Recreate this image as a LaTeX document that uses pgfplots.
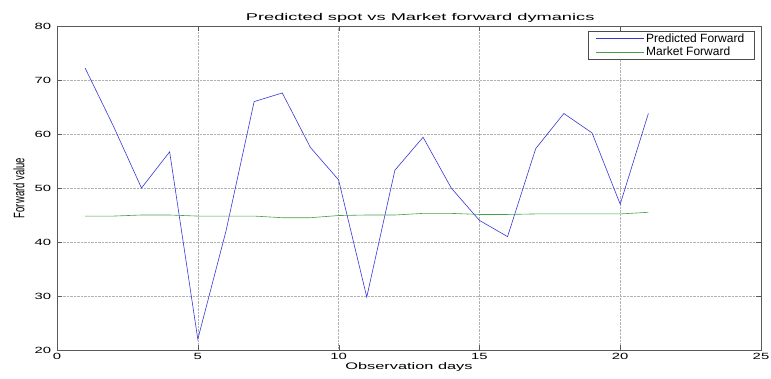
\documentclass[border=0pt]{standalone}
\usepackage{pgfplots}
\pgfplotsset{compat=1.18}
\usepackage{fontspec}
\setmainfont{Liberation Sans}
\definecolor{predblue}{RGB}{55,55,215}
\definecolor{mktgreen}{RGB}{70,160,70}
\begin{document}
\begin{tikzpicture}
\path[use as bounding box] (-57pt,-28pt) rectangle (714pt,350pt);
\begin{axis}[
  at={(0pt,0pt)}, anchor=south west,
  scale only axis, width=704pt, height=324pt,
  xmin=0, xmax=25, ymin=20, ymax=80,
  xtick={0,5,...,25}, ytick={20,30,...,80},
  tick align=inside, tick pos=both,
  major tick length=5pt,
  grid=major,
  major grid style={densely dotted, gray!60, line width=0.5pt},
  axis line style={gray!70!black, line width=0.6pt},
  tick style={gray!70!black},
  /pgf/number format/assume math mode=true,
  ticklabel style={font=\fontsize{9}{9}\selectfont, xscale=1.65},
  title={Predicted spot vs Market forward dymanics},
  title style={font=\fontsize{9.8}{10}\selectfont, xscale=1.86, yshift=-6pt, xshift=6pt},
  xlabel={Observation days},
  xlabel style={font=\fontsize{9.5}{10}\selectfont, xscale=1.72, yshift=4pt},
  ylabel={\scalebox{1}[1.6]{Forward value}},
  ylabel style={font=\fontsize{9.5}{10}\selectfont, yshift=1pt},
  legend cell align=left,
  legend style={at={(0.99,0.985)}, anchor=north east, font=\fontsize{12}{12}\selectfont,
    draw=black!70, inner xsep=8pt, inner ysep=1pt, nodes={inner sep=1.5pt}},
  legend image code/.code={\draw[#1] (0pt,0pt) -- (48pt,0pt);},
]
\addplot[color=predblue, line width=0.6pt] coordinates {
(1,72.2) (2,61.5) (3,50.0) (4,56.7) (5,22.0) (6,42.0) (7,66.0) (8,67.6) (9,57.5) (10,51.5)
(11,29.8) (12,53.3) (13,59.4) (14,50.0) (15,44.0) (16,41.0) (17,57.3) (18,63.8) (19,60.2) (20,47.0) (21,63.8)
};
\addlegendentry{Predicted Forward}
\addplot[color=mktgreen, line width=0.6pt] coordinates {
(1,44.8) (2,44.8) (3,45.0) (4,45.0) (5,44.8) (6,44.8) (7,44.8) (8,44.5) (9,44.5) (10,44.9)
(11,45.0) (12,45.0) (13,45.3) (14,45.3) (15,45.1) (16,45.1) (17,45.2) (18,45.2) (19,45.2) (20,45.2) (21,45.5)
};
\addlegendentry{Market Forward}
\end{axis}
\end{tikzpicture}
\end{document}
